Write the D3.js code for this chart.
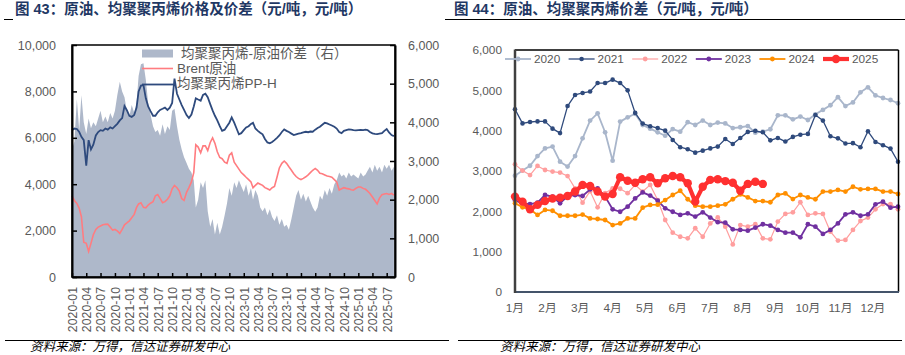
<!DOCTYPE html>
<html><head><meta charset="utf-8">
<script src="https://cdn.jsdelivr.net/npm/d3@7"></script>
<style>body{margin:0;background:#fff}svg{display:block}</style>
</head><body>
<svg id="c" width="905" height="355"></svg>
<script>
// ---------------- DATA ----------------
const titleLeft = "图 43：原油、均聚聚丙烯价格及价差（元/吨，元/吨）";
const titleRight = "图 44：原油、均聚聚丙烯价差（元/吨，元/吨）";
const sourceText = "资料来源：万得，信达证券研发中心";

// left chart: semi-monthly samples from 2020-01-01
const leftStart = "2020-01-01";
const leftSeriesNames = ["均聚聚丙烯-原油价差（右）", "Brent原油", "均聚聚丙烯PP-H"];
const spread = [3300,3500,4600,3800,4700,4000,3700,4100,3850,4000,
3900,4100,4300,4000,4150,4000,4240,4100,4300,4700,
5050,4800,4650,4300,4150,4450,4250,4500,5200,5500,
5530,5100,4500,4200,3900,3750,3800,3650,3950,3700,
3900,3800,4300,4350,3900,3550,3300,3100,2950,2800,
2700,2500,1800,2000,2450,2300,2500,1700,1300,1500,
1100,1400,1100,1300,1600,1900,2300,2100,2450,2300,
2500,2350,2200,2400,2100,2300,2000,2250,2100,1800,
1700,1800,1600,1750,1550,1450,1600,1350,1500,1300,
1350,1220,1500,1800,2100,2250,2000,2150,1950,2100,
1950,1800,1690,1800,2100,2000,2250,2100,2300,2150,
2400,2500,2700,2600,2650,2550,2700,2600,2650,2600,
2550,2700,2600,2650,2750,2850,2700,2900,2750,2850,
2700,2900,2800,2900,2750,2850];
const brent = [3500,3300,3170,2960,2600,1500,1450,1100,1450,1820,
2050,2150,2200,2250,2270,2280,2150,2020,2050,1990,
1880,2050,2250,2330,2420,2550,2700,3000,3150,3200,
3000,2980,3100,3180,3245,3500,3550,3390,3200,3250,
3350,3500,3800,3950,3850,3700,3380,3300,3650,3850,
4100,4500,5700,5600,5350,5650,5650,5450,5800,6000,
5760,5400,5150,5100,4950,4900,5250,5350,4950,4800,
4650,4500,4400,4300,4200,4100,3850,3950,4050,4000,
3950,3850,3800,3750,3850,3900,4300,4700,4900,5000,
4900,4750,4600,4450,4330,4250,4200,4250,4320,4400,
4500,4600,4680,4600,4470,4450,4400,4350,4330,4300,
4200,4100,3750,3800,3850,3820,3800,3760,3740,3820,
3880,3880,3820,3780,3700,3600,3450,3300,3150,3400,
3550,3580,3600,3560,3600,3530];
const ppH = [6330,6400,6380,6250,6040,5900,4800,5900,5500,5700,
6100,6250,6330,6300,6400,6350,6450,6400,6500,6600,
6750,6850,7365,7190,6950,6900,6980,7300,8000,8250,
8270,7700,7350,7150,6950,6950,7100,7200,7250,7300,
7200,7300,7500,8550,7900,7650,7410,7200,6980,6850,
7000,7350,7700,7650,7600,7850,7900,7750,7450,7180,
6950,6750,6500,6300,6350,6500,6650,6880,6650,6400,
6150,6200,6330,6450,6500,6600,6650,6400,6300,6220,
6150,5950,5800,5760,5820,5900,6000,6100,6250,6360,
6300,6250,6180,6120,6150,6180,6200,6230,6260,6240,
6270,6260,6350,6420,6475,6560,6645,6620,6575,6530,
6475,6400,6250,6200,6300,6330,6360,6350,6330,6320,
6330,6340,6330,6350,6330,6250,6190,6170,6160,6180,
6200,6300,6380,6230,6120,6075];
const leftTicksL = [0,2000,4000,6000,8000,10000];
const leftTicksR = [0,1000,2000,3000,4000,5000,6000];

// right chart: weekly spread by year
const years = ["2020","2021","2022","2023","2024","2025"];
const y2020 = [2885,3010,3130,3370,3560,3605,3230,3110,3370,3810,4250,4430,3960,3255,4225,4330,4420,4140,4050,3960,3875,4040,3975,4210,4140,4250,4140,4200,4180,4065,4085,4115,3950,3975,4035,4380,4380,4280,4350,4265,4405,4515,4630,4830,4610,4700,4950,5075,4875,4810,4760,4680];
const y2021 = [4530,4180,4215,4230,4230,4050,3940,4610,4885,4935,4970,5180,5180,5265,5180,5000,4440,4175,4110,4065,4000,3770,3590,3540,3455,3505,3560,3605,3795,3670,3820,3970,3995,3960,3760,3820,3730,3845,3900,3920,4390,4250,3860,3810,3680,3690,3590,3985,3720,3640,3555,3230];
const y2022 = [3165,3010,2900,3125,3025,2985,2960,2875,2570,2215,2500,2100,2450,2570,2560,2450,2655,2490,2655,2280,1785,1470,1370,1330,1580,1370,1700,1850,1620,1180,1660,1620,1680,1330,1305,1745,1935,1975,2225,1910,1950,1935,1495,1275,1290,1540,1760,1845,2050,2180,2180,2050];
const y2023 = [2265,2200,2180,2215,2405,2365,2200,2380,2405,2380,2545,2570,2365,2050,1990,2115,2320,2470,2390,2265,2075,1990,1910,1950,1870,1975,1845,1730,1720,1555,1540,1520,1595,1680,1645,1540,1470,1470,1355,1680,1620,1440,1540,1700,1925,1975,1890,1925,2175,2240,2090,2115];
const y2024 = [2200,2100,2050,1910,2035,2015,1890,1890,1890,1920,1825,1810,1785,1660,1700,1825,1825,2090,2160,2165,2280,2405,2510,2300,2140,2115,2115,2140,2175,2300,2420,2345,2255,2255,2225,2405,2445,2305,2405,2345,2300,2490,2490,2530,2490,2610,2545,2555,2555,2490,2490,2430];
const y2025 = [2365,2240,2050,2160,2255,2320,2340,2380,2490,2655,2630,2490,2365,2430,2845,2760,2710,2795,2845,2695,2820,2875,2845,2695,2240,2610,2780,2795,2750,2710,2510,2680,2735,2680];
const monthLabels = ["1月","2月","3月","4月","5月","6月","7月","8月","9月","10月","11月","12月"];
const rightTicks = [0,1000,2000,3000,4000,5000,6000];

// ---------------- DRAW ----------------
const svg = d3.select("#c");
const NUM = "'Liberation Sans','Noto Sans CJK SC',sans-serif";
const CJK = "'Liberation Sans','Noto Sans CJK SC',sans-serif";
const GRAY = "#595959";
const fmt = d3.format(",");

// titles
svg.append("text").attr("x",15).attr("y",14).text(titleLeft)
  .attr("font-family",CJK).attr("font-size",14.5).attr("font-weight","bold").attr("fill","#1F3864");
svg.append("text").attr("x",454).attr("y",14).text(titleRight)
  .attr("font-family",CJK).attr("font-size",14.5).attr("font-weight","bold").attr("fill","#1F3864");
svg.append("line").attr("x1",450).attr("x2",905).attr("y1",19.5).attr("y2",19.5).attr("stroke","#000").attr("stroke-width",1);
svg.append("line").attr("x1",4).attr("x2",13).attr("y1",19.5).attr("y2",19.5).attr("stroke","#000").attr("stroke-width",1);
svg.append("line").attr("x1",445).attr("x2",450).attr("y1",19.5).attr("y2",19.5).attr("stroke","#000").attr("stroke-width",1);

// bottom rules + source
svg.append("line").attr("x1",5).attr("x2",449).attr("y1",340.5).attr("y2",340.5).attr("stroke","#000");
svg.append("line").attr("x1",458).attr("x2",902).attr("y1",340.5).attr("y2",340.5).attr("stroke","#000");
[30,500].forEach(x=>svg.append("text").attr("x",x).attr("y",350.5).text(sourceText)
  .attr("font-family","'Noto Sans CJK SC',sans-serif").attr("font-size",12.5).attr("font-style","italic").attr("fill","#000"));

// ===== LEFT CHART =====
const t0 = d3.timeParse("%Y-%m-%d")(leftStart);
const leftDates = d3.range(spread.length).map(k => {
  const m = d3.timeMonth.offset(t0, Math.floor(k/2));
  return k % 2 ? d3.timeDay.offset(m, 15) : m;
});
const xL = d3.scaleTime().domain([t0, new Date(2025,7,23)]).range([72,395]);
const yL = d3.scaleLinear().domain([0,10000]).range([277,45]);
const yR = d3.scaleLinear().domain([0,6000]).range([277,45]);
const gL = svg.append("g");

gL.append("path").datum(spread)
  .attr("d", d3.area().x((d,i)=>xL(leftDates[i])).y0(yR(0)).y1(d=>yR(d)))
  .attr("fill","#AEB8CA");
gL.append("path").datum(brent)
  .attr("d", d3.line().x((d,i)=>xL(leftDates[i])).y(d=>yL(d)))
  .attr("fill","none").attr("stroke","#FF7C80").attr("stroke-width",1.6);
gL.append("path").datum(ppH)
  .attr("d", d3.line().x((d,i)=>xL(leftDates[i])).y(d=>yL(d)))
  .attr("fill","none").attr("stroke","#2E4A7D").attr("stroke-width",1.8);

// frame
gL.append("rect").attr("x",72).attr("y",45).attr("width",323).attr("height",232)
  .attr("fill","none").attr("stroke","#000").attr("stroke-width",1.5);

// axes
const axL = gL.append("g").attr("transform","translate(72,0)")
  .call(d3.axisLeft(yL).tickValues(leftTicksL).tickFormat(fmt).tickSizeInner(-5).tickSizeOuter(0).tickPadding(16));
const axR = gL.append("g").attr("transform","translate(395,0)")
  .call(d3.axisRight(yR).tickValues(leftTicksR).tickFormat(fmt).tickSizeInner(-5).tickSizeOuter(0).tickPadding(13));
const axB = gL.append("g").attr("transform","translate(0,277)")
  .call(d3.axisBottom(xL).ticks(d3.timeMonth.every(3)).tickFormat(d3.timeFormat("%Y-%m")).tickSizeInner(-4).tickSizeOuter(0));
axB.selectAll("text").attr("transform","rotate(-90)").attr("x",-10).attr("y",0).attr("dy","0.35em").attr("text-anchor","end");
[axL,axR,axB].forEach(a=>{
  a.select(".domain").attr("stroke","#000").attr("stroke-width",2);
  a.selectAll(".tick line").attr("stroke","#000").attr("stroke-width",1.5);
  a.selectAll("text").attr("fill",GRAY).attr("font-family",NUM).attr("font-size",12.5);
});
axB.selectAll("text").attr("font-size",12.3);

// legend
const lg = gL.append("g").attr("font-family",CJK).attr("font-size",13.5).attr("fill",GRAY);
lg.append("rect").attr("x",142).attr("y",49.5).attr("width",31).attr("height",8).attr("fill","#AEB8CA");
lg.append("text").attr("x",181).attr("y",53.5).attr("dy","0.35em").text(leftSeriesNames[0]);
lg.append("line").attr("x1",142).attr("x2",173).attr("y1",68.5).attr("y2",68.5).attr("stroke","#FF7C80").attr("stroke-width",1.6);
lg.append("text").attr("x",177).attr("y",68.5).attr("dy","0.35em").text(leftSeriesNames[1]);
lg.append("line").attr("x1",142).attr("x2",173).attr("y1",84.5).attr("y2",84.5).attr("stroke","#2E4A7D").attr("stroke-width",1.8);
lg.append("text").attr("x",177).attr("y",83.5).attr("dy","0.35em").text(leftSeriesNames[2]);

// ===== RIGHT CHART =====
const series = [y2020,y2021,y2022,y2023,y2024,y2025];
const styles = [
  {c:"#A9B6CB", w:1.8, r:2.4},
  {c:"#2F4A7C", w:1.3, r:2.3},
  {c:"#FF9E9E", w:1.2, r:2.4},
  {c:"#7030A0", w:1.8, r:2.4},
  {c:"#FF8F00", w:1.8, r:2.4},
  {c:"#FF3030", w:4.2, r:4.2}
];
const xW = d3.scaleLinear().domain([0,51]).range([515,898]);
const yW = d3.scaleLinear().domain([0,6000]).range([292,50]);
const gR = svg.append("g");

series.forEach((s,si)=>{
  const st = styles[si];
  gR.append("path").datum(s).attr("d", d3.line().x((d,i)=>xW(i)).y(d=>yW(d)))
    .attr("fill","none").attr("stroke",st.c).attr("stroke-width",st.w).attr("stroke-linejoin","round");
  gR.selectAll(null).data(s).enter().append("circle")
    .attr("cx",(d,i)=>xW(i)).attr("cy",d=>yW(d)).attr("r",st.r).attr("fill",st.c);
});

// frame
gR.append("line").attr("x1",515).attr("x2",898.5).attr("y1",50).attr("y2",50).attr("stroke","#000").attr("stroke-width",1.3);
gR.append("line").attr("x1",898.5).attr("x2",898.5).attr("y1",50).attr("y2",292).attr("stroke","#000").attr("stroke-width",1.5);
gR.append("line").attr("x1",515).attr("x2",899).attr("y1",292).attr("y2",292).attr("stroke","#44546A").attr("stroke-width",2);
gR.append("line").attr("x1",515).attr("x2",515).attr("y1",49.5).attr("y2",293).attr("stroke","#404040").attr("stroke-width",2.5);

const ayW = gR.append("g").attr("transform","translate(515,0)")
  .call(d3.axisLeft(yW).tickValues(rightTicks).tickFormat(fmt).tickSize(0).tickPadding(13));
ayW.select(".domain").remove();
ayW.selectAll("text").attr("fill",GRAY).attr("font-family",NUM).attr("font-size",11.8);

gR.selectAll(null).data(monthLabels).enter().append("text")
  .attr("x",(d,i)=>xW(i*52/12)).attr("y",308).attr("dy","0.35em").attr("text-anchor","middle")
  .attr("fill",GRAY).attr("font-family",CJK).attr("font-size",11.8).text(d=>d);

// legend
const lgR = gR.append("g");
years.forEach((yr,i)=>{
  const st = styles[i];
  const x0 = 505 + i*63.6, yy = 59;
  lgR.append("line").attr("x1",x0).attr("x2",x0+26).attr("y1",yy).attr("y2",yy).attr("stroke",st.c).attr("stroke-width",st.w);
  lgR.append("circle").attr("cx",x0+13).attr("cy",yy).attr("r",st.r).attr("fill",st.c);
  lgR.append("text").attr("x",x0+29).attr("y",yy).attr("dy","0.35em").text(yr)
    .attr("fill",GRAY).attr("font-family",NUM).attr("font-size",11.8);
});
</script>
</body></html>
